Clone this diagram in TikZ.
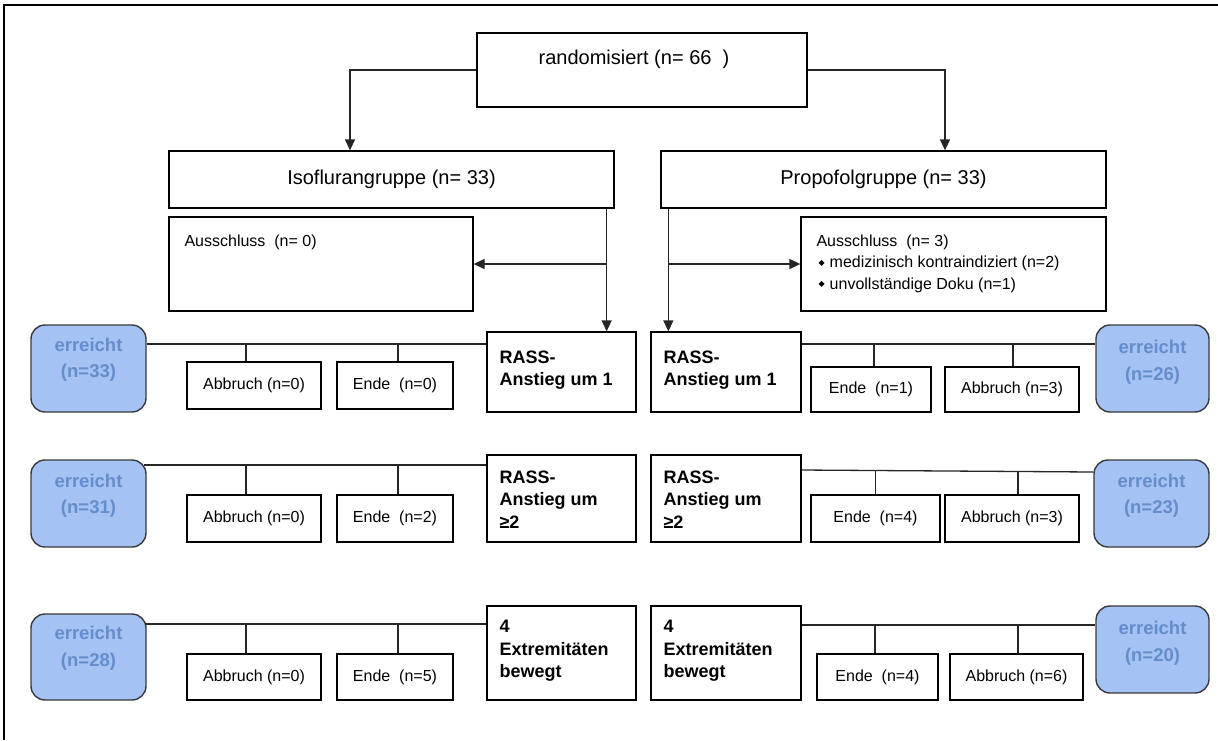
\documentclass[tikz,border=0pt]{standalone}
\usepackage{fontspec}
\setmainfont{Liberation Sans}
\newfontfamily\dejavu{DejaVu Sans}
\usetikzlibrary{arrows.meta,calc}
\definecolor{rfill}{HTML}{A4C2F4}
\definecolor{rtext}{HTML}{668DCB}
\definecolor{rline}{HTML}{3A3A3A}
\newcommand\mybul{\raisebox{2.5pt}{\dejavu\fontsize{8}{8}\selectfont ◆}}
\tikzset{
 box/.style={draw=black, line width=1.3pt, inner sep=0pt},
 reached/.style={draw=rline, fill=rfill, line width=1.4pt, rounded corners=14pt, inner sep=0pt, minimum width=115pt, minimum height=87pt},
 rlabel/.style={text=rtext, font=\fontsize{18.5}{26.5}\selectfont\bfseries, align=center, inner sep=0pt},
 small/.style={font=\fontsize{16}{18}\selectfont},
 big/.style={font=\fontsize{20}{22}\selectfont},
 stage/.style={font=\fontsize{18}{22.5}\selectfont\bfseries, align=left, inner sep=0pt, anchor=north west},
 note/.style={font=\fontsize{16}{21.5}\selectfont, align=left, inner sep=0pt, anchor=north west},
 conn/.style={draw=black!85, line width=1.3pt},
 arr/.style={conn, -{Triangle[length=11pt,width=10pt]}},
}
\begin{document}
\begin{tikzpicture}[x=1pt,y=-1pt]
\useasboundingbox (0,0) rectangle (1218,740);
% frame
\draw[line width=2.5pt] (3,5) -- (1218,5);
\draw[line width=1.5pt] (4,5) -- (4,740);

% top
\node[box, minimum width=330pt, minimum height=74pt] (rand) at (642,70) {};
\node[big] (randt) at (634,59) {randomisiert (n= 66~~)};
\node[box, big, minimum width=445pt, minimum height=57pt] (iso) at (391.5,179.5) {Isoflurangruppe (n= 33)};
\node[box, big, minimum width=445pt, minimum height=57pt] (prop) at (883.5,179.5) {Propofolgruppe (n= 33)};
\node[box, minimum width=304pt, minimum height=94pt] (exl) at (321,264) {};
\node[note] (exlt) at ([xshift=16pt,yshift=-18pt]exl.north west) {Ausschluss~~(n= 0)};
\node[box, minimum width=305pt, minimum height=94pt] (exr) at (953.5,264) {};
\node[note] (exrt) at ([xshift=16pt,yshift=-18pt]exr.north west) {Ausschluss~~(n= 3)\\\hspace*{2pt}\mybul\hspace{5pt}medizinisch kontraindiziert (n=2)\\\hspace*{2pt}\mybul\hspace{5pt}unvollständige Doku (n=1)};

% stage boxes
\node[box, minimum width=149pt, minimum height=80pt] (r1l) at (561.5,372) {};
\node[stage] (r1lt) at ([xshift=13pt,yshift=-19pt]r1l.north west) {RASS-\\Anstieg um 1};
\node[box, minimum width=150pt, minimum height=80pt] (r1r) at (726,372) {};
\node[stage] (r1rt) at ([xshift=13pt,yshift=-19pt]r1r.north west) {RASS-\\Anstieg um 1};
\node[box, minimum width=149pt, minimum height=87pt] (r2l) at (561.5,498.5) {};
\node[stage] (r2lt) at ([xshift=13pt,yshift=-16pt]r2l.north west) {RASS-\\Anstieg um\\≥2};
\node[box, minimum width=150pt, minimum height=87pt] (r2r) at (726,498.5) {};
\node[stage] (r2rt) at ([xshift=13pt,yshift=-16pt]r2r.north west) {RASS-\\Anstieg um\\≥2};
\node[box, minimum width=149pt, minimum height=94pt] (r3l) at (561.5,653) {};
\node[stage] (r3lt) at ([xshift=13pt,yshift=-15pt]r3l.north west) {4\\Extremitäten\\bewegt};
\node[box, minimum width=150pt, minimum height=94pt] (r3r) at (726,653) {};
\node[stage] (r3rt) at ([xshift=13pt,yshift=-15pt]r3r.north west) {4\\Extremitäten\\bewegt};

% reached boxes
\node[reached] (e1l) at (88.5,368.5) {};
\node[rlabel] (e1lt) at (88.5,359.5) {erreicht\\(n=33)};
\node[reached, minimum width=113pt] (e1r) at (1152.5,368.5) {};
\node[rlabel] (e1rt) at (1152.5,362) {erreicht\\(n=26)};
\node[reached] (e2l) at (88.5,503.5) {};
\node[rlabel] (e2lt) at (88.5,495.5) {erreicht\\(n=31)};
\node[reached] (e2r) at (1151.5,503.5) {};
\node[rlabel] (e2rt) at (1151.5,495.5) {erreicht\\(n=23)};
\node[reached, minimum height=86pt] (e3l) at (88.5,657) {};
\node[rlabel] (e3lt) at (88.5,648) {erreicht\\(n=28)};
\node[reached, minimum width=113pt] (e3r) at (1152.5,649.5) {};
\node[rlabel] (e3rt) at (1152.5,643) {erreicht\\(n=20)};

% small boxes
\node[box, small, minimum width=134pt, minimum height=47pt] (ab1l) at (254,385.5) {Abbruch (n=0)};
\node[box, small, minimum width=116pt, minimum height=47pt] (en1l) at (395,385.5) {Ende~~(n=0)};
\node[box, small, minimum width=120pt, minimum height=45pt] (en1r) at (871,389.5) {Ende~~(n=1)};
\node[box, small, minimum width=134pt, minimum height=45pt] (ab1r) at (1012,389.5) {Abbruch (n=3)};
\node[box, small, minimum width=134pt, minimum height=47pt] (ab2l) at (254,518.5) {Abbruch (n=0)};
\node[box, small, minimum width=116pt, minimum height=47pt] (en2l) at (395,518.5) {Ende~~(n=2)};
\node[box, small, minimum width=129pt, minimum height=47pt] (en2r) at (875.5,518.5) {Ende~~(n=4)};
\node[box, small, minimum width=134pt, minimum height=47pt] (ab2r) at (1012,518.5) {Abbruch (n=3)};
\node[box, small, minimum width=134pt, minimum height=46pt] (ab3l) at (254,677) {Abbruch (n=0)};
\node[box, small, minimum width=116pt, minimum height=46pt] (en3l) at (395,677) {Ende~~(n=5)};
\node[box, small, minimum width=121pt, minimum height=46pt] (en3r) at (877.5,677) {Ende~~(n=4)};
\node[box, small, minimum width=133pt, minimum height=46pt] (ab3r) at (1016.5,677) {Abbruch (n=6)};

% top arrows
\draw[arr] (rand.west) -| ([xshift=-41.5pt]iso.north);
\draw[arr] (rand.east) -| ([xshift=61.5pt]prop.north);
\coordinate (sl) at ([xshift=-8pt]iso.south east);
\draw[arr] (sl) -- (sl |- r1l.north);
\draw[arr] (sl |- exl.east) -- (exl.east);
\coordinate (sr) at ([xshift=8pt]prop.south west);
\draw[arr] (sr) -- (sr |- r1r.north);
\draw[arr] (sr |- exr.west) -- (exr.west);

% row 1
\coordinate (c1l) at ([yshift=24.5pt]e1l.east);
\draw[conn] (c1l) -- (c1l -| r1l.west);
\draw[conn] ([xshift=-8pt]ab1l.north) -- ([xshift=-8pt]ab1l.north |- c1l);
\draw[conn] ([xshift=3pt]en1l.north) -- ([xshift=3pt]en1l.north |- c1l);
\coordinate (c1r) at ([yshift=28pt]r1r.east);
\draw[conn] (c1r) -- (c1r -| e1r.west);
\draw[conn] ([xshift=3pt]en1r.north) -- ([xshift=3pt]en1r.north |- c1r);
\draw[conn] ([xshift=1pt]ab1r.north) -- ([xshift=1pt]ab1r.north |- c1r);

% row 2
\coordinate (c2l) at ([xshift=-3pt,yshift=38.5pt]e2l.east);
\draw[conn] (c2l) -- (c2l -| r2l.west);
\draw[conn] ([xshift=-8pt]ab2l.north) -- ([xshift=-8pt]ab2l.north |- c2l);
\draw[conn] ([xshift=3pt]en2l.north) -- ([xshift=3pt]en2l.north |- c2l);
\coordinate (c2r) at ([yshift=28.5pt]r2r.east);
\draw[conn] (c2r) -- ([yshift=-2pt]c2r -| e2r.west);
\draw[conn] (en2r.north) -- ([yshift=-1pt]en2r.north |- c2r);
\draw[conn] ([xshift=6pt]ab2r.north) -- ([xshift=6pt,yshift=-1.5pt]ab2r.north |- c2r);

% row 3
\coordinate (c3l) at ([xshift=-2pt,yshift=33pt]e3l.east);
\draw[conn] (c3l) -- (c3l -| r3l.west);
\draw[conn] ([xshift=-8pt]ab3l.north) -- ([xshift=-8pt]ab3l.north |- c3l);
\draw[conn] ([xshift=3pt]en3l.north) -- ([xshift=3pt]en3l.north |- c3l);
\coordinate (c3r) at ([yshift=28pt]r3r.east);
\draw[conn] (c3r) -- (c3r -| e3r.west);
\draw[conn] ([xshift=-2.5pt]en3r.north) -- ([xshift=-2.5pt]en3r.north |- c3r);
\draw[conn] ([xshift=1.5pt]ab3r.north) -- ([xshift=1.5pt]ab3r.north |- c3r);
\end{tikzpicture}
\end{document}
